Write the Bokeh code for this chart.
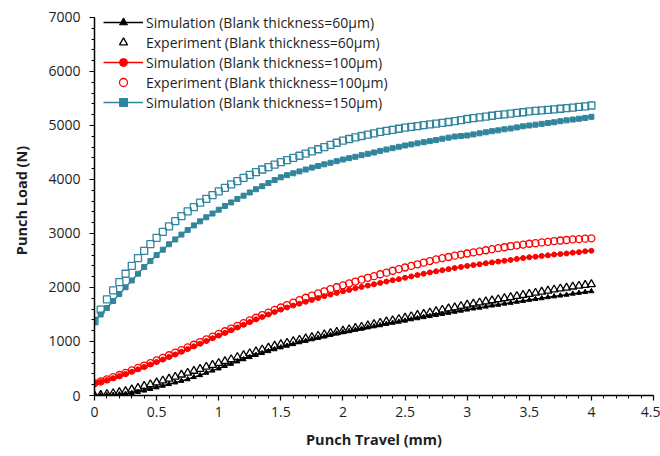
from bokeh.plotting import figure
from bokeh.models import Range1d, FixedTicker, Legend, LegendItem
from bokeh.embed import file_html
from bokeh.resources import INLINE

# ---------------- data ----------------
travel = [round(i * 0.05, 2) for i in range(81)]  # punch travel grid (mm)

sim_60 = [0, 0, 5, 10, 20, 30, 45, 65, 90, 120, 150, 180, 210, 240, 270, 300, 340, 375, 420, 460,
          500, 545, 585, 630, 670, 710, 750, 785, 820, 855, 890, 920, 950, 985, 1010, 1040, 1065, 1090, 1120, 1145,
          1170, 1190, 1215, 1235, 1260, 1280, 1300, 1325, 1345, 1365, 1385, 1410, 1430, 1450, 1470, 1490, 1510, 1530, 1550, 1570,
          1590, 1610, 1625, 1645, 1665, 1680, 1700, 1715, 1735, 1750, 1770, 1785, 1800, 1820, 1835, 1850, 1865, 1885, 1900, 1915,
          1930]
exp_60 = [0, 10, 25, 40, 60, 80, 110, 140, 175, 205, 240, 275, 310, 345, 385, 420, 455, 490, 530, 565,
          600, 635, 670, 710, 745, 780, 815, 850, 885, 920, 950, 975, 1005, 1030, 1055, 1080, 1105, 1130, 1155, 1175,
          1200, 1225, 1250, 1270, 1295, 1320, 1345, 1370, 1390, 1415, 1440, 1465, 1490, 1510, 1535, 1560, 1585, 1610, 1630, 1655,
          1680, 1700, 1720, 1740, 1760, 1780, 1800, 1820, 1840, 1860, 1880, 1900, 1920, 1940, 1960, 1980, 1995, 2015, 2030, 2045,
          2060]
sim_100 = [230, 255, 285, 320, 360, 400, 440, 485, 530, 575, 620, 665, 715, 760, 810, 860, 910, 960, 1010, 1060,
           1110, 1160, 1210, 1260, 1310, 1360, 1410, 1455, 1500, 1545, 1590, 1630, 1665, 1700, 1735, 1770, 1805, 1840, 1870, 1900,
           1930, 1955, 1985, 2010, 2035, 2060, 2085, 2110, 2135, 2155, 2180, 2205, 2230, 2255, 2280, 2300, 2320, 2340, 2360, 2380,
           2400, 2415, 2430, 2450, 2465, 2480, 2495, 2510, 2530, 2545, 2560, 2570, 2585, 2595, 2610, 2620, 2630, 2645, 2655, 2670,
           2680]
exp_100 = [230, 260, 300, 340, 380, 420, 465, 510, 555, 600, 650, 695, 745, 795, 840, 890, 940, 990, 1040, 1090,
           1140, 1190, 1240, 1290, 1340, 1390, 1440, 1490, 1535, 1585, 1630, 1675, 1720, 1765, 1810, 1850, 1890, 1930, 1970, 2005,
           2040, 2075, 2110, 2145, 2180, 2210, 2245, 2275, 2310, 2340, 2370, 2400, 2430, 2460, 2490, 2520, 2545, 2565, 2590, 2610,
           2630, 2650, 2670, 2690, 2710, 2730, 2745, 2765, 2780, 2795, 2810, 2820, 2835, 2845, 2860, 2870, 2880, 2890, 2895, 2905,
           2910]
sim_150 = [1380, 1500, 1620, 1750, 1880, 2005, 2130, 2255, 2380, 2490, 2600, 2700, 2800, 2890, 2980, 3065, 3150, 3225, 3300, 3370,
           3440, 3510, 3575, 3640, 3700, 3760, 3820, 3875, 3935, 3990, 4040, 4080, 4115, 4150, 4185, 4220, 4250, 4280, 4310, 4340,
           4370, 4395, 4420, 4450, 4475, 4500, 4530, 4555, 4580, 4605, 4630, 4650, 4670, 4690, 4710, 4730, 4755, 4775, 4795, 4805,
           4815, 4835, 4855, 4875, 4895, 4910, 4930, 4945, 4965, 4985, 5000, 5015, 5030, 5045, 5060, 5080, 5095, 5110, 5125, 5140,
           5160]
exp_150 = [1380, 1590, 1780, 1945, 2100, 2255, 2400, 2545, 2680, 2805, 2920, 3030, 3130, 3230, 3320, 3410, 3490, 3570, 3640, 3710,
           3780, 3845, 3910, 3970, 4030, 4085, 4135, 4185, 4230, 4275, 4320, 4360, 4400, 4440, 4480, 4520, 4560, 4600, 4640, 4680,
           4720, 4750, 4780, 4805, 4830, 4855, 4880, 4900, 4920, 4940, 4960, 4975, 4990, 5005, 5020, 5035, 5050, 5065, 5080, 5100,
           5120, 5135, 5150, 5165, 5180, 5195, 5205, 5220, 5235, 5245, 5260, 5270, 5280, 5290, 5300, 5310, 5320, 5330, 5345, 5355,
           5370]

x_ticks = [0, 0.5, 1, 1.5, 2, 2.5, 3, 3.5, 4, 4.5]
x_tick_labels = ["0", "0.5", "1", "1.5", "2", "2.5", "3", "3.5", "4", "4.5"]
x_minor = [round(i * 0.1, 1) for i in range(46)]
y_ticks = [0, 1000, 2000, 3000, 4000, 5000, 6000, 7000]
y_tick_labels = ["0", "1000", "2000", "3000", "4000", "5000", "6000", "7000"]
y_minor = [i * 200 for i in range(36)]

legend_labels = [
    "Simulation (Blank thickness=60μm)",
    "Experiment (Blank thickness=60μm)",
    "Simulation (Blank thickness=100μm)",
    "Experiment (Blank thickness=100μm)",
    "Simulation (Blank thickness=150μm)",
]
x_title = "Punch Travel (mm)"
y_title = "Punch Load (N)"

FONT = "Open Sans"
TEAL = "#31859C"
TXT = "#1e1e1e"

# frame: 390 px tall; 7000 sits 12 px below the frame top so the legend stays inside the frame
p = figure(width=660, height=456, x_range=Range1d(0, 4.5), y_range=Range1d(0, 7222),
           output_backend="svg", toolbar_location=None,
           min_border_left=94, min_border_right=7, min_border_top=5, min_border_bottom=61)
p.outline_line_color = None
p.xgrid.visible = False
p.ygrid.visible = False
p.background_fill_color = "white"
p.border_fill_color = "white"

for ax in (p.xaxis[0], p.yaxis[0]):
    ax.axis_line_color = "black"
    ax.axis_line_width = 1.5
    ax.major_tick_line_color = "black"
    ax.minor_tick_line_color = "black"
    ax.major_tick_in = 0
    ax.major_tick_out = 5
    ax.minor_tick_in = 0
    ax.minor_tick_out = 3
    ax.major_tick_line_width = 1.2
    ax.minor_tick_line_width = 1.0
    ax.major_label_text_font = FONT
    ax.major_label_text_font_size = "14px"
    ax.major_label_text_color = TXT
    ax.axis_label_text_font = FONT
    ax.axis_label_text_font_style = "bold"
    ax.axis_label_text_font_size = "14.5px"
    ax.axis_label_text_color = TXT

p.yaxis.bounds = (0, 7000)
p.xaxis.ticker = FixedTicker(ticks=x_ticks, minor_ticks=x_minor)
p.yaxis.ticker = FixedTicker(ticks=y_ticks, minor_ticks=y_minor)
p.xaxis.major_label_overrides = dict(zip(x_ticks, x_tick_labels))
p.yaxis.major_label_overrides = dict(zip(y_ticks, y_tick_labels))
p.xaxis.major_label_standoff = 6
p.yaxis.major_label_standoff = 9
p.xaxis.axis_label = x_title
p.yaxis.axis_label = y_title
p.xaxis.axis_label_standoff = 10
p.yaxis.axis_label_standoff = 14

# series
l60 = p.line(travel, sim_60, line_color="black", line_width=1.5)
s60 = p.scatter(travel, sim_60, marker="triangle", size=5, color="black")
e60 = p.scatter(travel, exp_60, marker="triangle", size=8, line_color="black", fill_color=None, line_width=1.3)
l100 = p.line(travel, sim_100, line_color="red", line_width=1.5)
s100 = p.scatter(travel, sim_100, marker="circle", size=5, color="red")
e100 = p.scatter(travel, exp_100, marker="circle", size=7, line_color="red", fill_color=None, line_width=1.3)
l150 = p.line(travel, sim_150, line_color=TEAL, line_width=1.5)
s150 = p.scatter(travel, sim_150, marker="square", size=5, color=TEAL)
e150 = p.scatter(travel, exp_150, marker="square", size=7, line_color=TEAL, fill_color=None, line_width=1.3)

legend = Legend(items=[
    LegendItem(label=legend_labels[0], renderers=[l60, s60]),
    LegendItem(label=legend_labels[1], renderers=[e60]),
    LegendItem(label=legend_labels[2], renderers=[l100, s100]),
    LegendItem(label=legend_labels[3], renderers=[e100]),
    LegendItem(label=legend_labels[4], renderers=[l150, s150]),
], location=(9, 283))
legend.padding = 0
legend.margin = 0
legend.spacing = 0
legend.label_height = 20
legend.glyph_height = 20
legend.glyph_width = 40
legend.label_standoff = 3
legend.border_line_color = None
legend.background_fill_alpha = 0
legend.label_text_font = FONT
legend.label_text_font_size = "14px"
legend.label_text_color = TXT
p.add_layout(legend)

open("out.html", "w").write(file_html(p, INLINE))
